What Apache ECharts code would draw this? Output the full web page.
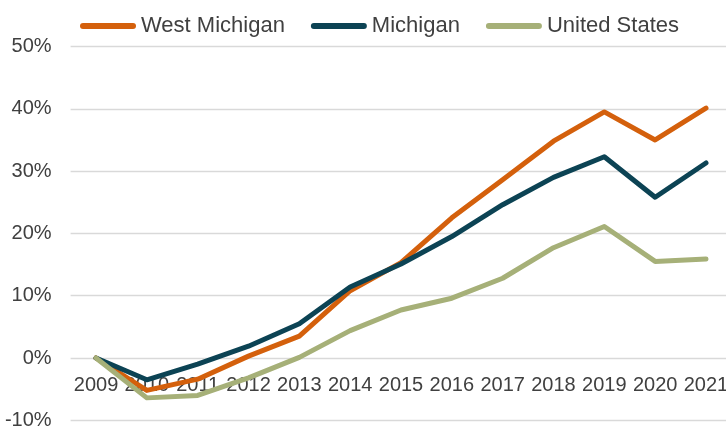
<!DOCTYPE html>
<html>
<head>
<meta charset="utf-8">
<script src="https://cdn.jsdelivr.net/npm/echarts@6/dist/echarts.min.js"></script>
<style>
  html, body { margin: 0; padding: 0; background: #fff; }
  #chart { width: 726px; height: 428px; }
</style>
</head>
<body>
<div id="chart"></div>
<script>
// cumulative growth since 2009, percent
var years = ['2009', '2010', '2011', '2012', '2013', '2014', '2015', '2016', '2017', '2018', '2019', '2020', '2021'];
var westMichigan = [0, -5.2, -3.4, 0.3, 3.5, 10.8, 15.3, 22.5, 28.6, 34.8, 39.5, 35.0, 40.1];
var michigan = [0, -3.5, -1.0, 1.9, 5.5, 11.4, 15.1, 19.5, 24.6, 29.0, 32.3, 25.8, 31.3];
var unitedStates = [0, -6.4, -6.0, -3.2, 0.1, 4.4, 7.7, 9.6, 12.8, 17.7, 21.1, 15.5, 15.9];

var font = "'Liberation Sans', Arial, sans-serif";
var textColor = '#404040';
var capsule = 'path://M3,0 L53,0 A3,3 0 0 1 53,6 L3,6 A3,3 0 0 1 3,0 Z';

var chart = echarts.init(document.getElementById('chart'));

function lineSeries(name, data, color) {
    return {
        name: name,
        type: 'line',
        data: data,
        symbol: 'none',
        smooth: false,
        itemStyle: { color: color },
        lineStyle: { color: color, width: 5, cap: 'round', join: 'round' }
    };
}

chart.setOption({
    animation: false,
    textStyle: { fontFamily: font },
    legend: {
        left: 75,
        top: 10,
        icon: capsule,
        itemWidth: 56,
        itemHeight: 6,
        itemGap: 26,
        textStyle: { fontSize: 22, color: textColor, fontFamily: font },
        data: ['West Michigan', 'Michigan', 'United States']
    },
    grid: {
        left: 70.6,
        top: 46.5,
        width: 660.8,
        height: 373.8,
        outerBoundsMode: 'none'
    },
    xAxis: {
        type: 'category',
        data: years,
        position: 'bottom',
        offset: -62.3, // labels sit under the 0% line
        boundaryGap: true,
        axisLine: { show: false, onZero: false },
        axisTick: { show: false },
        axisLabel: { interval: 0, hideOverlap: false, fontSize: 20, color: textColor, fontFamily: font, margin: 17 }
    },
    yAxis: {
        type: 'value',
        min: -10,
        max: 50,
        interval: 10,
        axisLine: { show: false },
        axisTick: { show: false },
        axisLabel: { formatter: '{value}%', fontSize: 20, color: textColor, fontFamily: font, margin: 19 },
        splitLine: { lineStyle: { color: '#D9D9D9', width: 1.3 } }
    },
    series: [
        lineSeries('West Michigan', westMichigan, '#D4600C'),
        lineSeries('Michigan', michigan, '#0C4354'),
        lineSeries('United States', unitedStates, '#A6B078')
    ]
});
</script>
</body>
</html>
